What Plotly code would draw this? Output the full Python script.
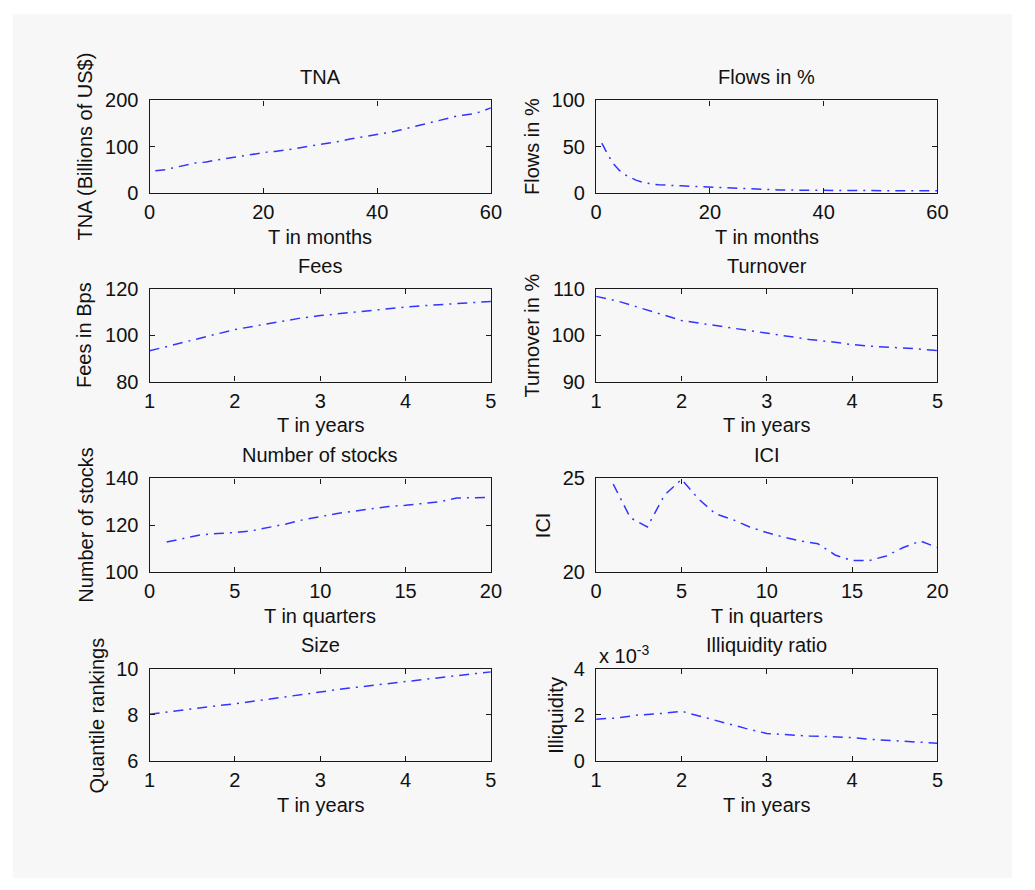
import plotly.graph_objects as go

# ---------------- data ----------------
months_tna = list(range(1, 61))
tna = [48, 49, 51, 54, 57, 60, 63, 65, 66, 67,
       70, 72, 74, 76, 78, 80, 81, 83, 85, 87,
       89, 90, 91, 93, 95, 97, 99, 101, 103, 104,
       106, 108, 110, 113, 116, 118, 120, 122, 124, 126,
       129, 131, 133, 136, 139, 142, 145, 149, 152, 154,
       157, 160, 163, 166, 168, 170, 171, 175, 180, 184]

months_flows = list(range(1, 61))
flows = [54, 42, 32, 25, 20, 17, 14, 12, 10.5, 9.5,
         9, 8.5, 8.2, 8, 7.8, 7.5, 7.2, 7, 6.8, 6.5,
         6.0, 5.7, 5.4, 5.1, 4.8, 4.5, 4.2, 4.0, 3.8, 3.6,
         3.5, 3.4, 3.3, 3.2, 3.1, 3.0, 3.0, 2.9, 2.9, 2.8,
         2.8, 2.8, 2.8, 2.7, 2.7, 2.7, 2.7, 2.7, 2.6, 2.6,
         2.6, 2.6, 2.6, 2.6, 2.5, 2.5, 2.5, 2.5, 2.5, 2.5]

years = [1.0, 1.25, 1.5, 1.75, 2.0, 2.25, 2.5, 2.75, 3.0,
         3.25, 3.5, 3.75, 4.0, 4.25, 4.5, 4.75, 5.0]
fees = [93.3, 95.5, 97.8, 100.2, 102.5, 104.2, 105.8, 107.3, 108.5,
        109.5, 110.4, 111.3, 112.2, 112.9, 113.5, 114.0, 114.6]
turnover = [108.4, 107.4, 106.0, 104.6, 103.2, 102.5, 101.8, 101.1, 100.4,
            99.7, 99.1, 98.6, 98.0, 97.6, 97.4, 97.1, 96.7]
size_rank = [8.03, 8.15, 8.28, 8.38, 8.48, 8.60, 8.72, 8.87, 8.99,
             9.12, 9.23, 9.33, 9.46, 9.55, 9.65, 9.76, 9.86]
illiq_e3 = [1.82, 1.87, 2.00, 2.06, 2.16, 1.91, 1.66, 1.42, 1.20,
            1.13, 1.09, 1.06, 1.02, 0.94, 0.88, 0.85, 0.78]

quarters = list(range(1, 21))
stocks = [112.8, 114.4, 115.8, 116.4, 116.8, 117.6, 118.9, 120.5, 122.3, 123.7,
          125.0, 126.0, 127.0, 128.0, 128.5, 129.1, 130.0, 131.6, 131.8, 131.9]
ici = [24.7, 22.9, 22.4, 24.1, 24.95, 23.9, 23.1, 22.8, 22.4, 22.1,
       21.85, 21.65, 21.5, 20.9, 20.6, 20.6, 20.85, 21.3, 21.65, 21.3]

# ---------------- layout helpers ----------------
W, H = 1035, 890
FONT = "Liberation Sans"
FS = 20
TXT = "#111111"
LINE = dict(color="#3434ff", width=1.5, dash="10px,6px,2px,6px")


def fx(p):
    return p / W


def fy(p):
    return 1 - p / H


cols = [(146, 493), (600, 947)]
rows = [(91.7, 186.7), (285, 380), (479.3, 575), (674.3, 769.3)]

panels = [
    dict(x=months_tna, y=tna, title="TNA", xl="T in months", yl="TNA (Billions of US$)",
         xr=[0, 60], xt=[0, 20, 40, 60], yr=[0, 200], yt=[0, 100, 200], ylx=80),
    dict(x=months_flows, y=flows, title="Flows in %", xl="T in months", yl="Flows in %",
         xr=[0, 60], xt=[0, 20, 40, 60], yr=[0, 100], yt=[0, 50, 100], ylx=535),
    dict(x=years, y=fees, title="Fees", xl="T in years", yl="Fees in Bps",
         xr=[1, 5], xt=[1, 2, 3, 4, 5], yr=[80, 120], yt=[80, 100, 120], ylx=80),
    dict(x=years, y=turnover, title="Turnover", xl="T in years", yl="Turnover in %",
         xr=[1, 5], xt=[1, 2, 3, 4, 5], yr=[90, 110], yt=[90, 100, 110], ylx=535),
    dict(x=quarters, y=stocks, title="Number of stocks", xl="T in quarters", yl="Number of stocks",
         xr=[0, 20], xt=[0, 5, 10, 15, 20], yr=[100, 140], yt=[100, 120, 140], ylx=81),
    dict(x=quarters, y=ici, title="ICI", xl="T in quarters", yl="ICI",
         xr=[0, 20], xt=[0, 5, 10, 15, 20], yr=[20, 25], yt=[20, 25], ylx=546),
    dict(x=years, y=size_rank, title="Size", xl="T in years", yl="Quantile rankings",
         xr=[1, 5], xt=[1, 2, 3, 4, 5], yr=[6, 10], yt=[6, 8, 10], ylx=92),
    dict(x=years, y=illiq_e3, title="Illiquidity ratio", xl="T in years", yl="Illiquidity",
         xr=[1, 5], xt=[1, 2, 3, 4, 5], yr=[0, 4], yt=[0, 2, 4], ylx=559),
]

fig = go.Figure()
annotations = []
axis_common = dict(
    showline=True, linecolor="#1a1a1a", linewidth=1.3, mirror="ticks",
    ticks="inside", ticklen=5, tickwidth=1.2, tickcolor="#1a1a1a",
    showgrid=False, zeroline=False, fixedrange=True,
    tickfont=dict(family=FONT, size=FS, color=TXT),
)

for i, p in enumerate(panels):
    r, c = divmod(i, 2)
    x0, x1 = cols[c]
    top, bot = rows[r]
    n = "" if i == 0 else str(i + 1)
    fig.add_trace(go.Scatter(x=p["x"], y=p["y"], mode="lines", line=LINE,
                             xaxis="x" + n, yaxis="y" + n, showlegend=False,
                             hoverinfo="skip"))
    fig.layout["xaxis" + n] = dict(
        axis_common, domain=[fx(x0), fx(x1)], anchor="y" + n,
        range=p["xr"], tickvals=p["xt"], ticklabelstandoff=1)
    fig.layout["yaxis" + n] = dict(
        axis_common, domain=[fy(bot), fy(top)], anchor="x" + n,
        range=p["yr"], tickvals=p["yt"], ticklabelstandoff=6)
    cx = (x0 + x1) / 2
    cy = (top + bot) / 2
    annotations.append(dict(text=p["title"], x=fx(cx), y=fy(top - 24), xref="paper", yref="paper",
                            xanchor="center", yanchor="middle", showarrow=False,
                            font=dict(family=FONT, size=FS, color=TXT)))
    annotations.append(dict(text=p["xl"], x=fx(cx), y=fy(bot + 45), xref="paper", yref="paper",
                            xanchor="center", yanchor="middle", showarrow=False,
                            font=dict(family=FONT, size=FS, color=TXT)))
    annotations.append(dict(text=p["yl"], x=fx(p["ylx"]), y=fy(cy), xref="paper", yref="paper",
                            xanchor="center", yanchor="middle", textangle=-90, showarrow=False,
                            font=dict(family=FONT, size=FS, color=TXT)))

annotations.append(dict(text="x 10<sup>-3</sup>", x=fx(601), y=fy(660), xref="paper", yref="paper",
                        xanchor="left", yanchor="middle", showarrow=False,
                        font=dict(family=FONT, size=FS, color=TXT)))

fig.update_layout(
    width=W, height=H,
    margin=dict(l=0, r=0, t=0, b=0),
    paper_bgcolor="white",
    plot_bgcolor="rgba(0,0,0,0)",
    annotations=annotations,
    shapes=[dict(type="rect", xref="paper", yref="paper",
                 x0=fx(7), x1=fx(1023), y0=fy(889), y1=fy(3),
                 fillcolor="#f7f7f7", line=dict(width=0), layer="below")],
)

fig.write_html("out.html", config={"displayModeBar": False})
